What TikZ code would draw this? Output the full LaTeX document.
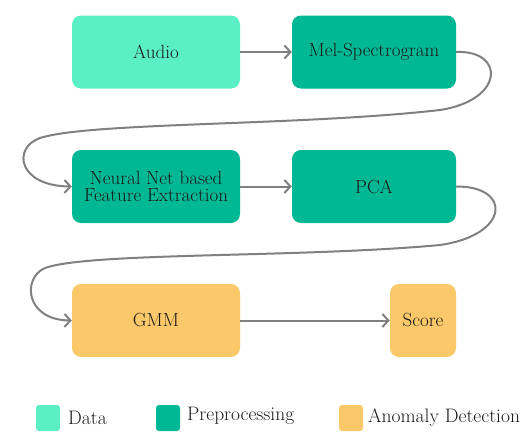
\documentclass[tikz,border=0pt]{standalone}
\usetikzlibrary{arrows.meta}
\definecolor{datac}{HTML}{5BEFC5}
\definecolor{prepc}{HTML}{00B894}
\definecolor{anomc}{HTML}{FBC86A}
\definecolor{linec}{HTML}{808080}
\definecolor{txtc}{HTML}{1A1A1A}
\tikzset{
  box/.style={rounded corners=9pt, inner sep=0pt, align=center, text=txtc,
    font=\fontsize{19}{17.5}\selectfont},
  databox/.style={box, fill=datac},
  prepbox/.style={box, fill=prepc},
  anombox/.style={box, fill=anomc},
  conn/.style={draw=linec, line width=2pt, -{Straight Barb[length=6pt,width=13pt,line width=2pt]}},
  legsq/.style={rounded corners=3pt, minimum width=24pt, minimum height=26pt, inner sep=0pt},
  legtxt/.style={anchor=west, inner sep=0pt, text=txtc, font=\fontsize{19.5}{22}\selectfont},
}
\begin{document}
\begin{tikzpicture}[x=1pt,y=-1pt]
\useasboundingbox (0,0) rectangle (531,442);
\node[databox, minimum width=168pt, minimum height=73pt] (audio) at (156,52) {Audio};
\node[prepbox, minimum width=164pt, minimum height=73pt] (mel) at (374,52) {Mel-Spectrogram};
\node[prepbox, minimum width=168pt, minimum height=73pt] (nn) at (156,186.5) {Neural Net based\\Feature Extraction};
\node[prepbox, minimum width=164pt, minimum height=73pt] (pca) at (374,186.5) {PCA};
\node[anombox, minimum width=168pt, minimum height=73pt] (gmm) at (156,320.5) {GMM};
\node[anombox, minimum width=66pt, minimum height=73pt] (score) at (423,320.5) {Score};

\draw[conn] (audio.east) -- (mel.west);
\draw[conn] (nn.east) -- (pca.west);
\draw[conn] (gmm.east) -- (score.west);
\draw[conn] (mel.east) .. controls (505,50) and (505,100) .. (440,110)
  .. controls (300,126) and (90,122) .. (40,138)
  .. controls (12,148) and (18,186) .. (nn.west);
\draw[conn] (pca.east) .. controls (512,186) and (510,235) .. (440,245)
  .. controls (300,258) and (90,252) .. (45,268)
  .. controls (22,278) and (25,320) .. (gmm.west);

\node[legsq, fill=datac] (l1) at (48,418) {};
\node[legtxt] (t1) at (68,418) {Data};
\node[legsq, fill=prepc] (l2) at (168,418) {};
\node[legtxt] (t2) at (187,416) {Preprocessing};
\node[legsq, fill=anomc] (l3) at (351,418) {};
\node[legtxt] (t3) at (368,418) {Anomaly Detection};
\end{tikzpicture}
\end{document}
